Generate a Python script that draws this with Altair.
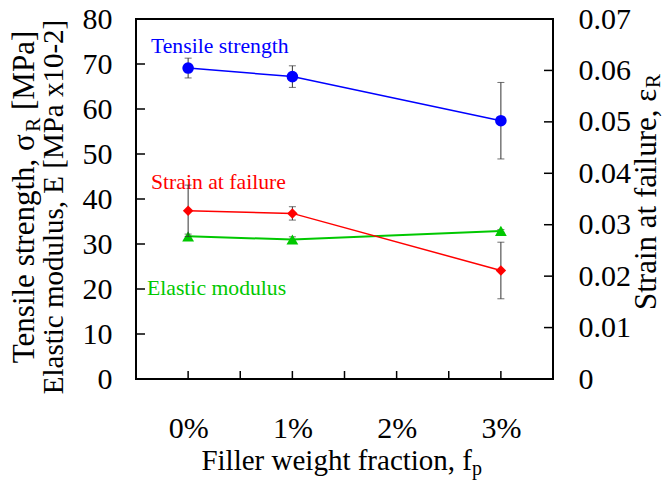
import altair as alt
import pandas as pd

# ---------------- data ----------------
fractions = [0, 1, 3]
tensile = [69.1, 67.2, 57.4]
tensile_err = [2.2, 2.4, 8.5]
modulus = [31.7, 31.0, 32.9]
modulus_err = [0.5, 0.6, 0.3]
strain = [0.0327, 0.0322, 0.0211]
strain_err = [0.0050, 0.0013, 0.0055]

x_label_values = [0, 1, 2, 3]
x_tick_values = [0, 0.5, 1, 1.5, 2, 2.5, 3]
left_label_values = [0, 10, 20, 30, 40, 50, 60, 70, 80]
left_tick_values = [10, 20, 30, 40, 50, 60, 70]
right_label_values = [0, 0.01, 0.02, 0.03, 0.04, 0.05, 0.06, 0.07]
right_tick_values = [0.01, 0.02, 0.03, 0.04, 0.05, 0.06]

# ---------------- layout ----------------
W, H = 417, 360
PAD = {"left": 136, "top": 19, "right": 114, "bottom": 102}
FONT = "'Liberation Serif', 'Times New Roman', Times, serif"
TICK_FS = 30
XTITLE_FS = 29
YTITLE_FS = 31
SUB_FS = 21
ANN_FS = 21.7

BLUE = "#0000FF"
RED = "#FF0000"
GREEN = "#00C800"
ERR = "#333333"

# approximate Times/Liberation Serif advance widths (per 1000 em)
CW = {" ": 250, ",": 250, ".": 250, "-": 333, "[": 333, "]": 333, "%": 833,
      "A": 722, "E": 611, "F": 556, "M": 889, "P": 556, "R": 667, "S": 556, "T": 611,
      "a": 444, "c": 444, "d": 500, "e": 444, "f": 333, "g": 500, "h": 500, "i": 278,
      "l": 278, "m": 778, "n": 500, "o": 500, "p": 500, "r": 333, "s": 389, "t": 278,
      "u": 500, "w": 722, "x": 500, "σ": 550, "ε": 440}


def tw(s, size):
    return sum(CW.get(c, 500) for c in s) / 1000.0 * size


def frame(vals, errs, key="v"):
    return pd.DataFrame({
        "f": fractions,
        key: vals,
        "lo": [v - e for v, e in zip(vals, errs)],
        "hi": [v + e for v, e in zip(vals, errs)],
    })


x_scale = alt.Scale(domain=[-0.5, 3.5], nice=False, zero=False)
x_axis = alt.Axis(values=x_label_values, labelExpr="datum.value + '%'", ticks=False,
                  tickSize=0, domain=False, grid=False, labelPadding=58,
                  labelBaseline="alphabetic", labelFont=FONT, labelFontSize=TICK_FS,
                  labelColor="black", title=None, labelFlush=False, labelOverlap=False)
X = alt.X("f:Q", scale=x_scale, axis=x_axis)

l_scale = alt.Scale(domain=[0, 80], nice=False, zero=False)
l_axis = alt.Axis(orient="left", values=left_label_values, ticks=False, tickSize=0,
                  domain=False, grid=False, labelPadding=24, labelFont=FONT,
                  labelFontSize=TICK_FS, labelColor="black", title=None,
                  labelFlush=False, labelOverlap=False)

r_scale = alt.Scale(domain=[0, 0.07], nice=False, zero=False)
r_axis = alt.Axis(orient="right", values=right_label_values, ticks=False, tickSize=0,
                  domain=False, grid=False, labelPadding=25, labelFont=FONT,
                  labelFontSize=TICK_FS, labelColor="black", title=None,
                  labelFlush=False, labelOverlap=False,
                  labelExpr="datum.value == 0 ? '0' : format(datum.value, '.2f')")


def series(df, scale, axis, color, shape, size, width):
    Yv = alt.Y("v:Q", scale=scale, axis=axis)
    err = alt.Chart(df).mark_rule(color=ERR, strokeWidth=1).encode(
        x=X, y=alt.Y("lo:Q", scale=scale, axis=axis), y2="hi:Q")
    cap_lo = alt.Chart(df).mark_tick(color=ERR, orient="horizontal", size=7,
                                     thickness=1).encode(
        x=X, y=alt.Y("lo:Q", scale=scale, axis=axis))
    cap_hi = alt.Chart(df).mark_tick(color=ERR, orient="horizontal", size=7,
                                     thickness=1).encode(
        x=X, y=alt.Y("hi:Q", scale=scale, axis=axis))
    line = alt.Chart(df).mark_line(color=color, strokeWidth=width).encode(x=X, y=Yv)
    pts = alt.Chart(df).mark_point(shape=shape, filled=True, size=size, color=color,
                                   opacity=1).encode(x=X, y=Yv)
    return [err, cap_lo, cap_hi, line, pts]


def ann(text, x, y, size, color="black", angle=0, align="left"):
    return alt.Chart(pd.DataFrame({"t": [text]})).mark_text(
        font=FONT, fontSize=size, color=color, angle=angle, align=align,
        baseline="alphabetic").encode(x=alt.value(x), y=alt.value(y), text="t:N")


df_t = frame(tensile, tensile_err)
df_m = frame(modulus, modulus_err)
df_s = frame(strain, strain_err)

# inward tick marks
lt = alt.Chart(pd.DataFrame({"t": left_tick_values})).mark_rule(
    color="black", strokeWidth=1.5).encode(
    y=alt.Y("t:Q", scale=l_scale, axis=l_axis), x=alt.value(0), x2=alt.value(9))
rt = alt.Chart(pd.DataFrame({"t": right_tick_values})).mark_rule(
    color="black", strokeWidth=1.5).encode(
    y=alt.Y("t:Q", scale=r_scale, axis=r_axis), x=alt.value(W - 9), x2=alt.value(W))
xt = alt.Chart(pd.DataFrame({"f": x_tick_values})).mark_rule(
    color="black", strokeWidth=1.5).encode(
    x=X, y=alt.value(H - 8), y2=alt.value(H))

# ---------- titles (pieces for subscripts) ----------
texts = []
SP = tw(" ", YTITLE_FS)
# left title line 1: "Tensile strength, σR [MPa]"
m1, s1, r1 = "Tensile strength, σ", "R", "[MPa]"
L1 = tw(m1, YTITLE_FS) + tw(s1, SUB_FS) + SP + tw(r1, YTITLE_FS)
bx1, cy1 = 34 - PAD["left"], 197 - PAD["top"]
y0 = cy1 + L1 / 2
texts.append(ann(m1, bx1, y0, YTITLE_FS, angle=270))
texts.append(ann(s1, bx1 + 6, y0 - tw(m1, YTITLE_FS), SUB_FS, angle=270))
texts.append(ann(r1, bx1, y0 - tw(m1, YTITLE_FS) - tw(s1, SUB_FS) - SP, YTITLE_FS,
                 angle=270))
# left title line 2
texts.append(ann("Elastic modulus, E [MPa x10-2]", 63 - PAD["left"], 207 - PAD["top"],
                 XTITLE_FS, angle=270, align="center"))
# right title: "Strain at failure, εR"
m3, s3 = "Strain at failure, ε", "R"
L3 = tw(m3, YTITLE_FS) + tw(s3, SUB_FS)
bx3, cy3 = 656 - PAD["left"], 192 - PAD["top"]
y3 = cy3 + L3 / 2
texts.append(ann(m3, bx3, y3, YTITLE_FS, angle=270))
texts.append(ann(s3, bx3 + 4, y3 - tw(m3, YTITLE_FS), SUB_FS, angle=270))
# x title: "Filler weight fraction, fp"
m4, s4 = "Filler weight fraction, f", "p"
L4 = tw(m4, XTITLE_FS) + tw(s4, SUB_FS)
cx4, by4 = 342 - PAD["left"], 470 - PAD["top"]
x4 = cx4 - L4 / 2
texts.append(ann(m4, x4, by4, XTITLE_FS))
texts.append(ann(s4, x4 + tw(m4, XTITLE_FS), by4 + 5, 20))

# series labels
texts.append(ann("Tensile strength", 151 - PAD["left"], 53 - PAD["top"], ANN_FS, BLUE))
texts.append(ann("Strain at failure", 151 - PAD["left"], 189 - PAD["top"], ANN_FS, RED))
texts.append(ann("Elastic modulus", 147 - PAD["left"], 295 - PAD["top"], ANN_FS, GREEN))

left_group = alt.layer(
    *series(df_m, l_scale, l_axis, GREEN, "triangle-up", 140, 2),
    *series(df_t, l_scale, l_axis, BLUE, "circle", 135, 1.5),
    lt, xt, *texts,
)
right_group = alt.layer(
    *series(df_s, r_scale, r_axis, RED, "diamond", 110, 1.5),
    rt,
)

chart = alt.layer(left_group, right_group).resolve_scale(y="independent").properties(
    width=W, height=H, padding=PAD, autosize=alt.AutoSizeParams(type="none"),
    background="white",
).configure_view(stroke="black", strokeWidth=2)

chart.save("out.html", embed_options={"renderer": "svg", "actions": False})
